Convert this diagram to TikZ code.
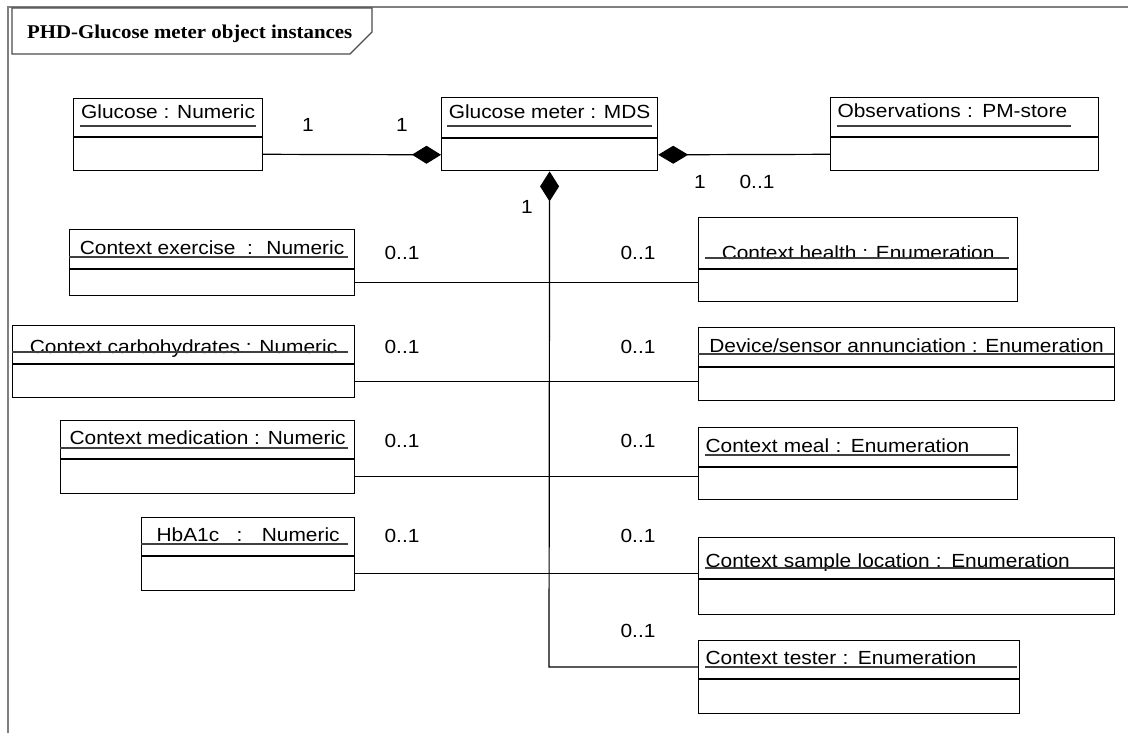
\documentclass[tikz,border=0pt]{standalone}
\usepackage{fontspec}
\newfontfamily\umlfont[FakeStretch=1.1]{Liberation Sans}
\newfontfamily\umltitlefont[FakeStretch=1.07]{Liberation Serif}
\usetikzlibrary{arrows.meta,positioning}

\tikzset{
  objhead/.style={draw, line width=1.2pt, anchor=north west, inner sep=0pt,
    font=\umlfont\fontsize{19pt}{22pt}\selectfont, text height=14pt, text depth=4pt},
  objleft/.style={align=left, inner xsep=7pt, text width=#1},
  objbody/.style={draw, line width=1.2pt, inner sep=0pt},
  uline/.style={line width=1.2pt, black!75},
  link/.style={line width=1.2pt},
  mult/.style={font=\umlfont\fontsize{19pt}{22pt}\selectfont, inner sep=0pt},
  frameline/.style={line width=1.8pt, black!50},
}

\begin{document}
\begin{tikzpicture}[x=1pt,y=-1pt]
\useasboundingbox (0,0) rectangle (1128,733);
\draw[frameline] (8,733) -- (8,7) -- (1128,7);
\draw[line width=1.2pt, black!70] (12,8) -- (372,8) -- (372,32) -- (350,54) -- (12,54) -- cycle;
\node[anchor=base west, inner sep=0pt, font=\umltitlefont\bfseries\fontsize{19.5pt}{22pt}\selectfont] (title) at (27,39) {PHD-Glucose meter object instances};

% top row
\node[objhead, minimum width=189pt, minimum height=38pt, text depth=12.4pt] (gnh) at (73,98) {Glucose : Numeric};
\node[objbody, minimum width=189pt, minimum height=33pt, below=0pt of gnh] (gnb) {};
\node[objhead, minimum width=216pt, minimum height=40pt, text depth=12.4pt] (gmh) at (441,97) {Glucose meter : MDS};
\node[objbody, minimum width=216pt, minimum height=32pt, below=0pt of gmh] (gmb) {};
\node[objhead, objleft=254pt, minimum width=268pt, minimum height=39pt, text depth=12.4pt] (obsh) at (830,97) {Observations : PM-store};
\node[objbody, minimum width=268pt, minimum height=33pt, below=0pt of obsh] (obsb) {};
\draw[uline] (80,126) -- (256,126);
\draw[uline] (447,126) -- (652,126);
\draw[uline] (837,126) -- (1071,126);

% left column
\node[objhead, minimum width=285pt, minimum height=39pt] (exh) at (69,229) {Context exercise~ :~ Numeric};
\node[objbody, minimum width=285pt, minimum height=26pt, below=0pt of exh] (exb) {};
\node[objhead, minimum width=342pt, minimum height=38pt, text height=21.6pt] (carboh) at (12,325) {Context carbohydrates : Numeric};
\node[objbody, minimum width=342pt, minimum height=33pt, below=0pt of carboh] (carbob) {};
\node[objhead, minimum width=294pt, minimum height=38pt] (medh) at (60,420) {Context medication : Numeric};
\node[objbody, minimum width=294pt, minimum height=34pt, below=0pt of medh] (medb) {};
\node[objhead, minimum width=213pt, minimum height=38pt] (hbh) at (141,517) {HbA1c~~ :~~ Numeric};
\node[objbody, minimum width=213pt, minimum height=34pt, below=0pt of hbh] (hbb) {};
\draw[uline] (69,257) -- (348,257);
\draw[uline] (12,352) -- (348,352);
\draw[uline] (60,448) -- (348,448);
\draw[uline] (141,544) -- (348,544);

% right column
\node[objhead, minimum width=319pt, minimum height=51pt, text height=37.6pt] (healthh) at (698,217) {Context health : Enumeration};
\node[objbody, minimum width=319pt, minimum height=32pt, below=0pt of healthh] (healthb) {};
\node[objhead, minimum width=416pt, minimum height=39pt] (devh) at (698,327) {Device/sensor annunciation : Enumeration};
\node[objbody, minimum width=416pt, minimum height=33pt, below=0pt of devh] (devb) {};
\node[objhead, objleft=305pt, minimum width=319pt, minimum height=39pt] (mealh) at (698,427) {Context meal : Enumeration};
\node[objbody, minimum width=319pt, minimum height=32pt, below=0pt of mealh] (mealb) {};
\node[objhead, objleft=402pt, minimum width=416pt, minimum height=41pt, text height=22.6pt] (samph) at (698,537) {Context sample location : Enumeration};
\node[objbody, minimum width=416pt, minimum height=35pt, below=0pt of samph] (sampb) {};
\node[objhead, objleft=307pt, minimum width=321pt, minimum height=38pt] (testh) at (698,640) {Context tester : Enumeration};
\node[objbody, minimum width=321pt, minimum height=34pt, below=0pt of testh] (testb) {};
\draw[uline] (705,258) -- (1009,258);
\draw[uline] (698,354) -- (1114,354);
\draw[uline] (705,455) -- (1010,455);
\draw[uline] (705,568) -- (1114,568);
\draw[uline] (705,667) -- (1017,667);

% connectors
\coordinate (trunkend) at (549,667);
\draw[link, -{Diamond[length=29pt,width=18pt]}] (gnb.east) -- (gmb.west);
\draw[link, {Diamond[length=30pt,width=18pt]}-] (gmb.east) -- (obsb.west);
\draw[link, {Diamond[length=30pt,width=19pt]}-] (gmb.south) -- (trunkend) -- (trunkend -| testh.west);
\draw[link] (exb.east) -- (exb.east -| healthh.west);
\draw[link] (carbob.east) -- (carbob.east -| devh.west);
\draw[link] (medb.east) -- (medb.east -| mealh.west);
\draw[link] (hbb.east) -- (hbb.east -| samph.west);

% multiplicities
\node[mult] (gnend) at (308,125) {1};
\node[mult] (gmleft) at (402,125) {1};
\node[mult] (gmright) at (700,182) {1};
\node[mult] (obsend) at (757,182) {0..1};
\node[mult] (gmbottom) at (527,207) {1};
\node[mult] (exend) at (402,253) {0..1};
\node[mult] (carboend) at (402,347) {0..1};
\node[mult] (medend) at (402,441) {0..1};
\node[mult] (hbend) at (402,536) {0..1};
\node[mult] (healthend) at (638,253) {0..1};
\node[mult] (devend) at (638,347) {0..1};
\node[mult] (mealend) at (638,441) {0..1};
\node[mult] (sampend) at (638,536) {0..1};
\node[mult] (testend) at (638,631) {0..1};
\end{tikzpicture}
\end{document}
